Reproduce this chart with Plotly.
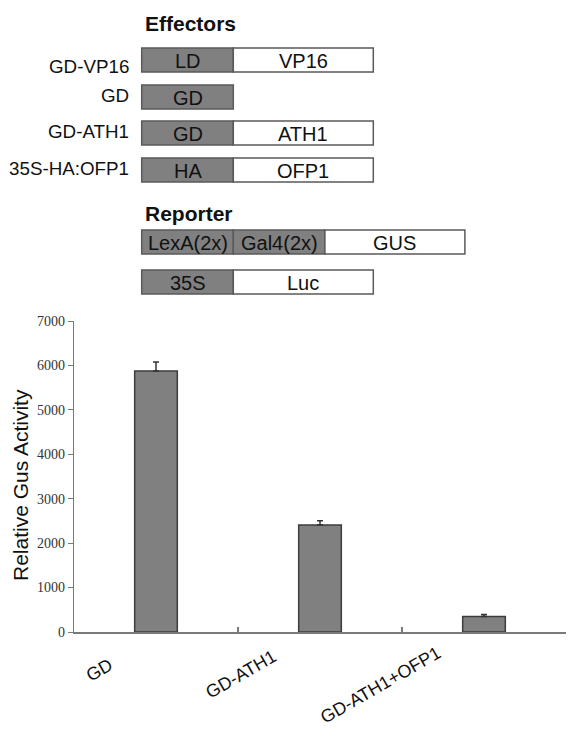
import plotly.graph_objects as go

# ---------------- data ----------------
categories = ["GD", "GD-ATH1", "GD-ATH1+OFP1"]
activity = [5875, 2410, 350]
activity_err = [200, 95, 45]
y_ticks = [0, 1000, 2000, 3000, 4000, 5000, 6000, 7000]

effector_names = ["GD-VP16", "GD", "GD-ATH1", "35S-HA:OFP1"]
effector_parts = [["LD", "VP16"], ["GD"], ["GD", "ATH1"], ["HA", "OFP1"]]
reporter_parts = [["LexA(2x)", "Gal4(2x)", "GUS"], ["35S", "Luc"]]

# ---------------- layout constants (pixels of the 574x742 page) ----------------
PAGE_W, PAGE_H = 574, 742
BODY_MARGIN = 8                      # default browser body margin
W, H = PAGE_W - 2 * BODY_MARGIN, PAGE_H - 2 * BODY_MARGIN
FONT = "Liberation Sans, Arial, sans-serif"
GRAY = "#808080"
EDGE = "#5a5a5a"


def px(x):
    return (x - BODY_MARGIN) / W


def py(y):
    return 1 - (y - BODY_MARGIN) / H


# diagram geometry
BOX_LEFT = 141.7
PART_W = {"gray": 91.6, "white": 140.0}
BOX_H = 24
effector_tops = [48, 85, 121, 158]
effector_label_y = [66, 95, 132, 168]
reporter_tops = [230, 270]


def part_kind(row_parts, j):
    # promoter/binding domains are gray, fused protein/reporter genes white
    return "white" if j == len(row_parts) - 1 and len(row_parts) > 1 else "gray"


shapes = []
annotations = []


def draw_row(parts, top):
    x = BOX_LEFT
    for j, label in enumerate(parts):
        kind = part_kind(parts, j)
        w = PART_W[kind]
        shapes.append(dict(type="rect", xref="paper", yref="paper",
                           x0=px(x), x1=px(x + w), y0=py(top + BOX_H), y1=py(top),
                           fillcolor=GRAY if kind == "gray" else "white",
                           line=dict(color=EDGE, width=1.5)))
        annotations.append(dict(xref="paper", yref="paper", x=px(x + w / 2), y=py(top + BOX_H / 2 + 0.5),
                                text=label, showarrow=False, xanchor="center", yanchor="middle",
                                font=dict(family=FONT, size=20, color="#111111")))
        x += w


for name, parts, top, ly in zip(effector_names, effector_parts, effector_tops, effector_label_y):
    draw_row(parts, top)
    annotations.append(dict(xref="paper", yref="paper", x=px(131), y=py(ly),
                            text=name, showarrow=False, xanchor="right", yanchor="middle",
                            font=dict(family=FONT, size=18.8, color="#111111")))

for parts, top in zip(reporter_parts, reporter_tops):
    draw_row(parts, top)

annotations.append(dict(xref="paper", yref="paper", x=px(143), y=py(23.5), text="<b>Effectors</b>",
                        showarrow=False, xanchor="left", yanchor="middle",
                        font=dict(family=FONT, size=21, color="#111111")))
annotations.append(dict(xref="paper", yref="paper", x=px(143), y=py(213.5), text="<b>Reporter</b>",
                        showarrow=False, xanchor="left", yanchor="middle",
                        font=dict(family=FONT, size=21, color="#111111")))

# y-axis title
annotations.append(dict(xref="paper", yref="paper", x=px(20), y=py(485), text="Relative Gus Activity",
                        showarrow=False, textangle=-90, xanchor="center", yanchor="middle",
                        font=dict(family=FONT, size=21, color="#111111")))

# rotated category labels
label_top = [652, 643, 640]
for cat, top in zip(categories, label_top):
    annotations.append(dict(xref="x", yref="paper", x=cat, y=py(top), xshift=-37,
                            text=cat, showarrow=False, textangle=-30,
                            xanchor="right", yanchor="top",
                            font=dict(family=FONT, size=18, color="#111111")))

# ---------------- figure ----------------
fig = go.Figure()
fig.add_trace(go.Bar(
    x=categories, y=activity, width=0.26,
    marker=dict(color=GRAY, line=dict(color="#3c3c3c", width=1.5)),
    error_y=dict(type="data", symmetric=False, array=activity_err,
                 arrayminus=[0] * len(activity_err),
                 color="#333333", thickness=1.5, width=3),
    showlegend=False,
))

fig.update_layout(
    width=W, height=H,
    margin=dict(l=0, r=0, t=0, b=0, autoexpand=False),
    paper_bgcolor="white", plot_bgcolor="white",
    shapes=shapes, annotations=annotations,
    xaxis=dict(domain=[px(74), 1], range=[-0.5, 2.5], type="category",
               showticklabels=False, showgrid=False, zeroline=False,
               showline=True, linecolor="#7a7a7a", linewidth=1.5,
               ticks="inside", tickson="boundaries", ticklen=5,
               tickcolor="#7a7a7a", tickwidth=1.5),
    yaxis=dict(domain=[py(632), py(321)], range=[0, 7000],
               tickvals=y_ticks, ticktext=[str(v) for v in y_ticks],
               showgrid=False, zeroline=False,
               showline=True, linecolor="#7a7a7a", linewidth=1.2,
               ticks="outside", ticklen=5, tickcolor="#7a7a7a", tickwidth=1.2,
               tickfont=dict(family="Liberation Serif, serif", size=14, color="#333333")),
)

fig.write_html("out.html", config={"displayModeBar": False})
